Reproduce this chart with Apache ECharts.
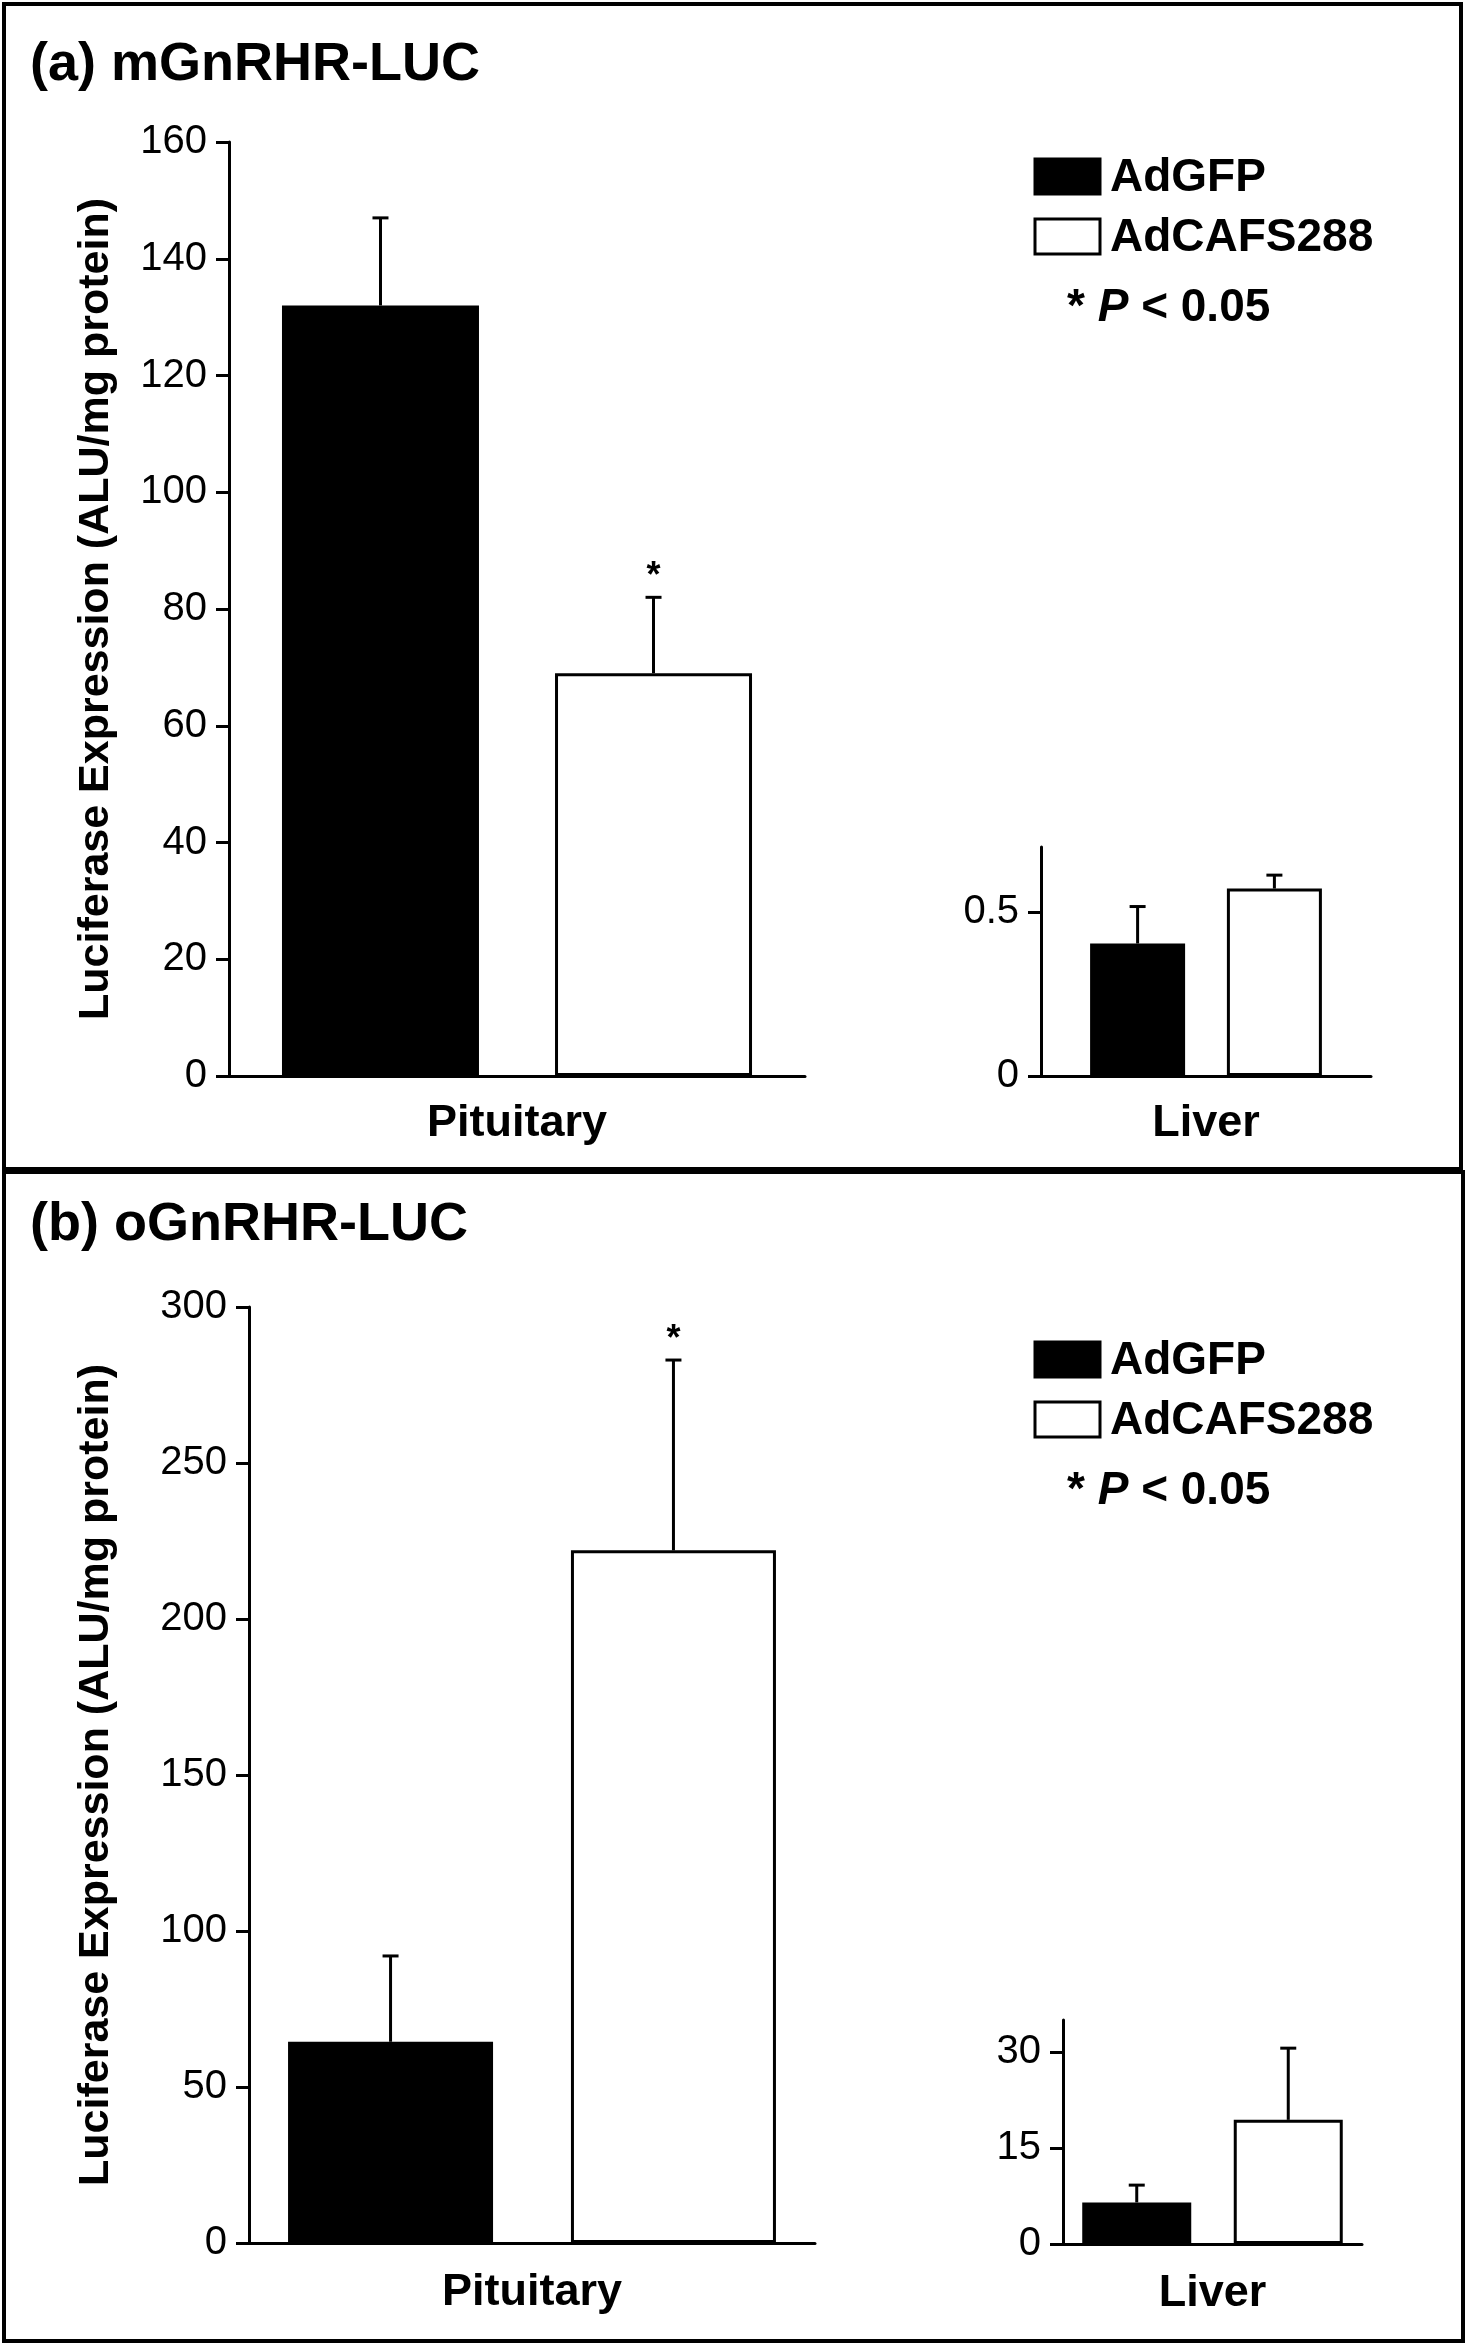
<!DOCTYPE html>
<html><head><meta charset="utf-8">
<script src="https://cdn.jsdelivr.net/npm/echarts@6/dist/echarts.min.js"></script>
<style>html,body{margin:0;padding:0;background:#fff}#c{width:1470px;height:2350px}</style>
</head><body><div id="c"></div>
<script>
const groups = ['Pituitary', 'Liver'];
const seriesNames = ['AdGFP', 'AdCAFS288'];
// panel (a) mGnRHR-LUC
const mGFP = [132, 0.405];
const mGFPErr = [15, 0.113];
const mCAF = [69, 0.573];
const mCAFErr = [13, 0.041];
const mStar = [['', '*'], ['', '']]; // [group][series]
// panel (b) oGnRHR-LUC
const oGFP = [64.5, 6.5];
const oGFPErr = [27.5, 2.7];
const oCAF = [222, 19.4];
const oCAFErr = [61, 11.2];
const oStar = [['', '*'], ['', '']];
const yTicksA = [[0, 160, 20], [0, 0.7, 0.5]];
const yTicksB = [[0, 300, 50], [0, 35, 15]];

const FONT = 'Liberation Sans, Arial, sans-serif';
const grids = [
  {left: 229, top: 142, width: 576, height: 934, bw: 197, gap: 0.386},
  {left: 1041, top: 847, width: 330, height: 229, bw: 95, gap: 0.44},
  {left: 249, top: 1307, width: 566, height: 936, bw: 205, gap: 0.38},
  {left: 1063, top: 2020, width: 299, height: 224, bw: 109, gap: 0.39}
];
const panels = [
  {g: 0, gi: 0, ticks: yTicksA[0], a: mGFP, ae: mGFPErr, b: mCAF, be: mCAFErr, star: mStar, name: 'Luciferase Expression (ALU/mg protein)', gapName: 111, lm: 25},
  {g: 1, gi: 1, ticks: yTicksA[1], a: mGFP, ae: mGFPErr, b: mCAF, be: mCAFErr, star: mStar, lm: 25},
  {g: 2, gi: 0, ticks: yTicksB[0], a: oGFP, ae: oGFPErr, b: oCAF, be: oCAFErr, star: oStar, name: 'Luciferase Expression (ALU/mg protein)', gapName: 131, lm: 27},
  {g: 3, gi: 1, ticks: yTicksB[1], a: oGFP, ae: oGFPErr, b: oCAF, be: oCAFErr, star: oStar, lm: 27}
];

const option = {animation: false, backgroundColor: '#fff', grid: [], xAxis: [], yAxis: [], series: [], graphic: []};
panels.forEach((p, k) => {
  const G = grids[p.g];
  option.grid.push({left: G.left, top: G.top, width: G.width, height: G.height, containLabel: false});
  option.xAxis.push({type: 'category', gridIndex: k, data: [groups[p.gi]],
    axisLine: {lineStyle: {color: '#000', width: 3}}, axisTick: {show: false},
    axisLabel: {color: '#000', fontFamily: FONT, fontWeight: 'bold', fontSize: 45, margin: p.lm}});
  option.yAxis.push({type: 'value', gridIndex: k, min: p.ticks[0], max: p.ticks[1], interval: p.ticks[2],
    splitLine: {show: false},
    axisLine: {show: true, lineStyle: {color: '#000', width: 3}},
    axisTick: {show: true, length: 13, lineStyle: {color: '#000', width: 3}},
    axisLabel: {color: '#000', fontFamily: FONT, fontSize: 40, margin: 22, showMaxLabel: p.ticks[1] % p.ticks[2] === 0},
    name: p.name || '', nameLocation: 'middle', nameGap: p.gapName || 0,
    nameTextStyle: {color: '#000', fontFamily: FONT, fontWeight: 'bold', fontSize: 43}});
  const vals = [p.a[p.gi], p.b[p.gi]];
  const errs = [p.ae[p.gi], p.be[p.gi]];
  [0, 1].forEach(s => {
    option.series.push({type: 'bar', name: seriesNames[s], xAxisIndex: k, yAxisIndex: k,
      data: [vals[s]], barWidth: G.bw, barGap: (G.gap * 100) + '%',
      itemStyle: {color: s === 0 ? '#000' : '#fff', borderColor: '#000', borderWidth: 3}});
  });
  const offs = G.bw * (1 + G.gap) / 2;
  option.series.push({type: 'custom', xAxisIndex: k, yAxisIndex: k, z: 5,
    data: [0, 1].map(s => [0, vals[s], vals[s] + errs[s], s]),
    renderItem: (params, api) => {
      const s = api.value(3);
      const top = api.coord([0, api.value(2)]);
      const base = api.coord([0, api.value(1)]);
      const x = top[0] + (s === 0 ? -offs : offs);
      const star = p.star[p.gi][s];
      const children = [
        {type: 'line', shape: {x1: x, y1: base[1], x2: x, y2: top[1]}, style: {stroke: '#000', lineWidth: 3}},
        {type: 'line', shape: {x1: x - 8, y1: top[1], x2: x + 8, y2: top[1]}, style: {stroke: '#000', lineWidth: 3}}
      ];
      if (star) children.push({type: 'text', x: x, y: top[1] - 2, style: {text: star, fill: '#000', font: 'bold 36px ' + FONT, align: 'center', verticalAlign: 'bottom'}});
      return {type: 'group', children};
    }});
});

function legend(y0) {
  return [
    {type: 'rect', shape: {x: 1035, y: y0, width: 65, height: 35}, style: {fill: '#000', stroke: '#000', lineWidth: 3}},
    {type: 'text', x: 1110, y: y0 + 19, style: {text: seriesNames[0], fill: '#000', font: 'bold 46px ' + FONT, verticalAlign: 'middle'}},
    {type: 'rect', shape: {x: 1035, y: y0 + 60, width: 65, height: 35}, style: {fill: '#fff', stroke: '#000', lineWidth: 3}},
    {type: 'text', x: 1110, y: y0 + 79, style: {text: seriesNames[1], fill: '#000', font: 'bold 46px ' + FONT, verticalAlign: 'middle'}},
    {type: 'text', x: 1067, y: y0 + 149, style: {rich: {a: {font: 'bold 46px ' + FONT, fill: '#000'}, b: {font: 'italic bold 46px ' + FONT, fill: '#000'}}, text: '{a|* }{b|P}{a| < 0.05}', verticalAlign: 'middle'}}
  ];
}
option.graphic = [
  {type: 'rect', shape: {x: 4, y: 4, width: 1457, height: 1165}, style: {fill: 'none', stroke: '#000', lineWidth: 4}},
  {type: 'rect', shape: {x: 4, y: 1172, width: 1459, height: 1169}, style: {fill: 'none', stroke: '#000', lineWidth: 4}},
  {type: 'text', x: 30, y: 65, style: {text: '(a) mGnRHR-LUC', fill: '#000', font: 'bold 54px ' + FONT, verticalAlign: 'middle'}},
  {type: 'text', x: 30, y: 1225, style: {text: '(b) oGnRHR-LUC', fill: '#000', font: 'bold 54px ' + FONT, verticalAlign: 'middle'}}
].concat(legend(159), legend(1342));

const chart = echarts.init(document.getElementById('c'), null, {renderer: 'canvas'});
chart.setOption(option);
</script></body></html>
